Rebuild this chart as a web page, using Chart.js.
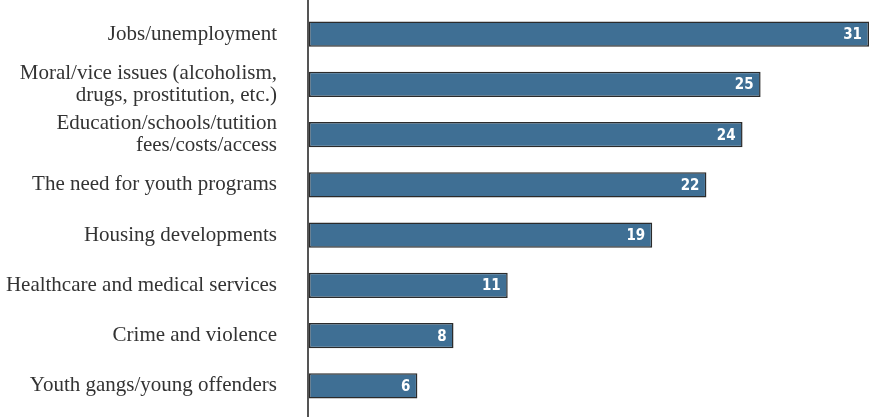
<!DOCTYPE html>
<html lang="en">
<head>
    <meta charset="UTF-8">
    <title>Issues</title>
    <script src="https://cdn.jsdelivr.net/npm/chart.js"></script>
    <style>
        html, body { margin: 0; padding: 0; background: #fff; }
        .wrap { width: 871px; height: 417px; }
    </style>
</head>
<body>
    <div class="wrap"><canvas id="issuesChart"></canvas></div>
    <script>
        const categories = [
            'Jobs/unemployment',
            ['Moral/vice issues (alcoholism,', 'drugs, prostitution, etc.)'],
            ['Education/schools/tutition', 'fees/costs/access'],
            'The need for youth programs',
            'Housing developments',
            'Healthcare and medical services',
            'Crime and violence',
            'Youth gangs/young offenders'
        ];
        const percentages = [31, 25, 24, 22, 19, 11, 8, 6];

        // vertical axis line running the full height of the canvas
        const axisLine = {
            id: 'axisLine',
            afterDraw(chart) {
                const { ctx } = chart;
                const x = chart.chartArea.left - 1;
                ctx.save();
                ctx.strokeStyle = '#555';
                ctx.lineWidth = 2;
                ctx.beginPath();
                ctx.moveTo(x, 0);
                ctx.lineTo(x, chart.height);
                ctx.stroke();
                ctx.restore();
            }
        };

        // white value labels inside the end of each bar
        const valueLabels = {
            id: 'valueLabels',
            afterDatasetsDraw(chart) {
                const { ctx } = chart;
                const meta = chart.getDatasetMeta(0);
                ctx.save();
                ctx.fillStyle = '#fff';
                ctx.font = 'bold 15px "DejaVu Sans Condensed", "DejaVu Sans", sans-serif';
                ctx.textAlign = 'right';
                ctx.textBaseline = 'middle';
                meta.data.forEach((bar, i) => {
                    ctx.fillText(percentages[i], bar.x - 7, bar.y + 1);
                });
                ctx.restore();
            }
        };

        const chart = new Chart(document.getElementById('issuesChart'), {
            type: 'bar',
            data: {
                labels: categories,
                datasets: [{
                    data: percentages,
                    backgroundColor: '#3f6f94',
                    borderColor: '#2b2b2b',
                    borderWidth: 1.5,
                    borderSkipped: false,
                    barPercentage: 0.5,
                    categoryPercentage: 1
                }]
            },
            options: {
                indexAxis: 'y',
                responsive: true,
                maintainAspectRatio: false,
                animation: false,
                layout: { padding: { top: 9, bottom: 6, right: 2, left: 0 } },
                scales: {
                    x: {
                        display: false,
                        min: 0,
                        max: 31
                    },
                    y: {
                        grid: { display: false, drawTicks: false },
                        border: { display: false },
                        ticks: {
                            color: '#333',
                            padding: 32,
                            font: { family: '"Liberation Serif", "DejaVu Serif", serif', size: 21, lineHeight: 1.05 }
                        },
                        afterFit(scale) {
                            scale.width = 309;
                            scale.paddingTop = 0;
                            scale.paddingBottom = 0;
                        }
                    }
                },
                plugins: {
                    legend: { display: false },
                    tooltip: { enabled: false }
                }
            },
            plugins: [axisLine, valueLabels]
        });
    </script>
</body>
</html>
